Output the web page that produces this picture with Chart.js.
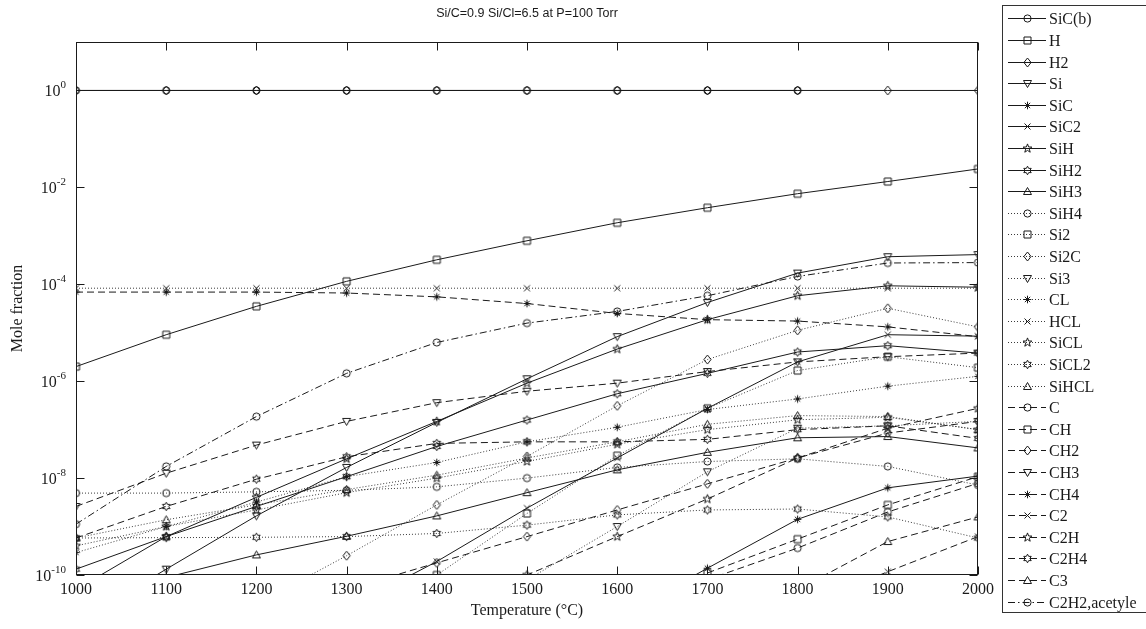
<!DOCTYPE html>
<html><head><meta charset="utf-8">
<script src="https://cdn.jsdelivr.net/npm/chart.js@4.4.1/dist/chart.umd.min.js"></script>
<style>html,body{margin:0;padding:0;background:#fff;overflow:hidden}#wrap{position:relative;width:1146px;height:629px}</style>
</head><body><div id="wrap"><canvas id="c" width="1146" height="629"></canvas></div>
<script>
// ---------------- data (mole fractions) ----------------
const temperatures = [1000,1100,1200,1300,1400,1500,1600,1700,1800,1900,2000];
const yTickExponents = [0,-2,-4,-6,-8,-10];
const titleText = 'Si/C=0.9 Si/Cl=6.5 at P=100 Torr';

const SiC_b = [1,1,1,1,1,1,1,1,1,null,null];
const H     = [2.0e-6,9.1e-6,3.5e-5,1.15e-4,3.2e-4,7.9e-4,1.86e-3,3.8e-3,7.4e-3,1.32e-2,2.4e-2];
const H2    = [1,1,1,1,1,1,1,1,1,1,1];
const Si    = [1.0e-11,1.32e-10,1.66e-9,1.66e-8,1.41e-7,1.12e-6,8.3e-6,4.2e-5,1.7e-4,3.7e-4,4.1e-4];
const SiC   = [null,null,null,null,null,null,1.26e-11,1.38e-10,1.41e-9,6.3e-9,1.1e-8];
const SiC2  = [null,null,null,2.0e-11,1.9e-10,2.4e-9,2.6e-8,2.75e-7,2.5e-6,9.1e-6,8.5e-6];
const SiH   = [5.0e-11,6.2e-10,4.0e-9,2.5e-8,1.48e-7,9.1e-7,4.6e-6,1.86e-5,5.8e-5,9.3e-5,8.7e-5];
const SiH2  = [1.32e-10,6.2e-10,2.6e-9,1.07e-8,4.5e-8,1.58e-7,5.5e-7,1.45e-6,4.0e-6,5.4e-6,3.8e-6];
const SiH3  = [3.2e-11,8.9e-11,2.6e-10,6.3e-10,1.66e-9,5.0e-9,1.48e-8,3.4e-8,6.8e-8,7.2e-8,4.2e-8];
const SiH4  = [4.9e-9,4.9e-9,5.2e-9,5.6e-9,6.6e-9,1.0e-8,1.66e-8,2.2e-8,2.5e-8,1.74e-8,7.2e-9];
const Si2   = [null,null,null,5.0e-12,1.0e-10,1.86e-9,2.9e-8,2.75e-7,1.66e-6,3.2e-6,1.9e-6];
const Si2C  = [null,null,2.5e-11,2.5e-10,2.8e-9,2.8e-8,3.1e-7,2.8e-6,1.12e-5,3.2e-5,1.32e-5];
const Si3   = [null,null,null,null,6.3e-12,7.9e-11,1.0e-9,1.35e-8,1.07e-7,1.2e-7,1.48e-7];
const CL    = [2.9e-10,1.0e-9,3.2e-9,1.07e-8,2.1e-8,5.6e-8,1.12e-7,2.6e-7,4.3e-7,7.9e-7,1.26e-6];
const HCL   = [8.3e-5,8.3e-5,8.3e-5,8.3e-5,8.3e-5,8.3e-5,8.3e-5,8.3e-5,8.3e-5,8.3e-5,8.3e-5];
const SiCL  = [4.0e-10,1.0e-9,2.2e-9,5.0e-9,1.0e-8,2.2e-8,5.0e-8,1.0e-7,1.6e-7,1.8e-7,1.0e-7];
const SiCL2 = [5.8e-10,5.9e-10,6.0e-10,6.2e-10,7.2e-10,1.07e-9,1.74e-9,2.2e-9,2.3e-9,1.58e-9,5.8e-10];
const SiHCL = [5.8e-10,1.38e-9,2.8e-9,5.8e-9,1.15e-8,2.6e-8,5.6e-8,1.29e-7,1.95e-7,1.86e-7,1.0e-7];
const C     = [null,null,null,null,null,null,1.0e-11,8.0e-11,3.6e-10,2.0e-9,7.8e-9];
const CH    = [null,null,null,null,null,null,1.6e-11,1.1e-10,5.5e-10,2.8e-9,1.07e-8];
const CH2   = [null,null,null,5.0e-11,1.78e-10,6.2e-10,2.2e-9,7.6e-9,2.6e-8,8.5e-8,1.48e-7];
const CH3   = [2.6e-9,1.26e-8,4.8e-8,1.48e-7,3.6e-7,6.2e-7,9.1e-7,1.58e-6,2.5e-6,3.2e-6,3.8e-6];
const CH4   = [6.9e-5,6.9e-5,6.9e-5,6.6e-5,5.5e-5,4.0e-5,2.5e-5,1.86e-5,1.74e-5,1.32e-5,8.3e-6];
const C2    = [null,null,null,null,null,null,null,null,2.0e-11,1.17e-10,6.2e-10];
const C2H   = [null,null,null,null,1.26e-11,1.0e-10,6.2e-10,3.7e-9,2.6e-8,1.07e-7,2.75e-7];
const C2H4  = [5.8e-10,2.6e-9,9.5e-9,2.75e-8,5.2e-8,5.6e-8,5.6e-8,6.3e-8,1.0e-7,1.2e-7,6.6e-8];
const C3    = [null,null,null,null,null,null,null,4.0e-12,5.0e-11,4.9e-10,1.58e-9];
const C2H2  = [1.12e-9,1.74e-8,1.86e-7,1.45e-6,6.3e-6,1.58e-5,2.75e-5,5.8e-5,1.45e-4,2.75e-4,2.8e-4];

const seriesNames = ['SiC(b)','H','H2','Si','SiC','SiC2','SiH','SiH2','SiH3',
  'SiH4','Si2','Si2C','Si3','CL','HCL','SiCL','SiCL2','SiHCL',
  'C','CH','CH2','CH3','CH4','C2','C2H','C2H4','C3','C2H2,acetyle'];
const seriesValues = [SiC_b,H,H2,Si,SiC,SiC2,SiH,SiH2,SiH3,
  SiH4,Si2,Si2C,Si3,CL,HCL,SiCL,SiCL2,SiHCL,
  C,CH,CH2,CH3,CH4,C2,C2H,C2H4,C3,C2H2];

// ---------------- styles ----------------
const markerCycle = ['o','s','d','v','*','x','p','h','^'];
const FONT_SERIF = '"Liberation Serif","Times New Roman",serif';
const INK = '#1a1a1a';
const dashes = { solid: [], dotted: [1,2], dashed: [7,4], dashdot: [7,3,1.5,3] };
function styleOf(i){ if(i<9) return 'solid'; if(i<18) return 'dotted'; if(i<27) return 'dashed'; return 'dashdot'; }
function markerOf(i){ return i===27 ? 'o' : markerCycle[i%9]; }

function makeMarker(kind){
  const S=15, c=document.createElement('canvas'); c.width=S; c.height=S;
  const g=c.getContext('2d'); g.strokeStyle=INK; g.lineWidth=1; const m=7.5;
  g.beginPath();
  const star=(n,R,r)=>{ for(let k=0;k<2*n;k++){ const a=-Math.PI/2+k*Math.PI/n, rr=k%2?r:R;
      const px=m+rr*Math.cos(a), py=m+rr*Math.sin(a); k?g.lineTo(px,py):g.moveTo(px,py);} g.closePath(); };
  switch(kind){
    case 'o': g.arc(m,m,3.6,0,Math.PI*2); break;
    case 's': g.rect(m-3.5,m-3.5,7,7); break;
    case 'd': g.moveTo(m,m-4.5); g.lineTo(m+3.6,m); g.lineTo(m,m+4.5); g.lineTo(m-3.6,m); g.closePath(); break;
    case 'v': g.moveTo(m-4,m-3); g.lineTo(m+4,m-3); g.lineTo(m,m+4); g.closePath(); break;
    case '^': g.moveTo(m-4,m+3); g.lineTo(m+4,m+3); g.lineTo(m,m-4); g.closePath(); break;
    case '*': for(let k=0;k<4;k++){ const a=k*Math.PI/4; g.moveTo(m-3.8*Math.cos(a),m-3.8*Math.sin(a)); g.lineTo(m+3.8*Math.cos(a),m+3.8*Math.sin(a)); } break;
    case 'x': g.moveTo(m-3,m-3); g.lineTo(m+3,m+3); g.moveTo(m+3,m-3); g.lineTo(m-3,m+3); break;
    case 'p': star(5,4.6,1.9); break;
    case 'h': star(6,4.3,2.4); break;
  }
  g.stroke(); return c;
}
const markerImgs = {}; ['o','s','d','v','^','*','x','p','h'].forEach(k=>markerImgs[k]=makeMarker(k));

const datasets = seriesNames.map((name,i)=>{
  const st = styleOf(i);
  return {
    label: name,
    data: temperatures.map((t,j)=>({x:t, y:seriesValues[i][j]})),
    borderColor: st==='dotted' ? '#3a3a3a' : INK,
    borderWidth: 1,
    borderDash: dashes[st],
    pointStyle: markerImgs[markerOf(i)],
    pointRadius: 4,
    pointHoverRadius: 4,
    tension: 0,
    fill: false,
    spanGaps: false
  };
});

// ---------------- decorations plugin ----------------
const deco = {
  id: 'deco',
  afterDraw(chart){
    const {ctx, chartArea:a} = chart;
    const xs = chart.scales.x, ys = chart.scales.y;
    ctx.save();
    ctx.strokeStyle = INK; ctx.lineWidth = 1; ctx.setLineDash([]);
    const L=Math.round(a.left)+0.5, R=Math.round(a.right)-0.5, T=Math.round(a.top)+0.5, B=Math.round(a.bottom)-0.5;
    ctx.strokeRect(L, T, R-L, B-T);
    // inward ticks
    ctx.beginPath();
    for(const t of temperatures){
      const x = Math.round(xs.getPixelForValue(t))+0.5;
      ctx.moveTo(x,B); ctx.lineTo(x,B-8);
      ctx.moveTo(x,T); ctx.lineTo(x,T+8);
    }
    for(const e of yTickExponents){
      const y = Math.round(ys.getPixelForValue(Math.pow(10,e)))+0.5;
      ctx.moveTo(L,y); ctx.lineTo(L+8,y);
      ctx.moveTo(R,y); ctx.lineTo(R-8,y);
    }
    ctx.stroke();
    // y tick labels 10^e
    ctx.fillStyle = INK; ctx.textBaseline='alphabetic';
    for(const e of yTickExponents){
      const y = ys.getPixelForValue(Math.pow(10,e));
      const sup = String(e);
      ctx.font = '11px '+FONT_SERIF;
      const sw = ctx.measureText(sup).width;
      const right = 66;
      ctx.textAlign='left';
      ctx.fillText(sup, right - sw, y - 2);
      ctx.font = '16px '+FONT_SERIF;
      ctx.textAlign='right';
      ctx.fillText('10', right - sw, y + 6);
    }
    // title
    ctx.font = '12.5px "Liberation Sans", Arial, sans-serif';
    ctx.textAlign='center'; ctx.textBaseline='middle';
    ctx.fillText(titleText, (a.left+a.right)/2, 14);
    // legend
    const bx=1002.5, by=5.5;
    ctx.strokeStyle='#333';
    ctx.strokeRect(bx, by, 160, 607);
    ctx.font = '16px '+FONT_SERIF; ctx.textAlign='left'; ctx.textBaseline='middle';
    chart.data.datasets.forEach((ds,i)=>{
      const y = Math.round(18.3 + i*21.6)+0.5;
      ctx.strokeStyle = ds.borderColor; ctx.setLineDash(ds.borderDash);
      ctx.beginPath(); ctx.moveTo(1008,y); ctx.lineTo(1046,y); ctx.stroke();
      ctx.setLineDash([]);
      const img = ds.pointStyle;
      ctx.drawImage(img, 1027.5-img.width/2, y-img.height/2);
      ctx.fillStyle = INK;
      ctx.fillText(ds.label, 1049, y+1);
    });
    ctx.restore();
  }
};

new Chart(document.getElementById('c'), {
  type: 'line',
  data: { datasets },
  options: {
    responsive: false, animation: false, devicePixelRatio: 1,
    layout: { padding: { left: 0, right: 168, top: 42, bottom: 0 } },
    plugins: { legend: {display:false}, title: {display:false}, tooltip: {enabled:false} },
    events: [],
    scales: {
      x: {
        type: 'linear', min: 1000, max: 2000,
        afterFit: s => { s.height = 54; },
        grid: { display: false, drawTicks: false }, border: { display: false },
        ticks: { stepSize: 100, color: INK, autoSkip: false, maxRotation: 0, padding: 5,
                 font: { family: FONT_SERIF, size: 16 }, callback: v => String(v) },
        title: { display: true, text: 'Temperature (°C)', color: INK,
                 font: { family: FONT_SERIF, size: 16 }, padding: { top: 0, bottom: 9 } }
      },
      y: {
        type: 'logarithmic', min: 1e-10, max: 10,
        afterFit: s => { s.width = 76; },
        grid: { display: false, drawTicks: false }, border: { display: false },
        ticks: { display: false },
        title: { display: true, text: 'Mole fraction', color: INK,
                 font: { family: FONT_SERIF, size: 16 }, padding: { top: 8, bottom: 0 } }
      }
    }
  },
  plugins: [deco]
});
</script></body></html>
